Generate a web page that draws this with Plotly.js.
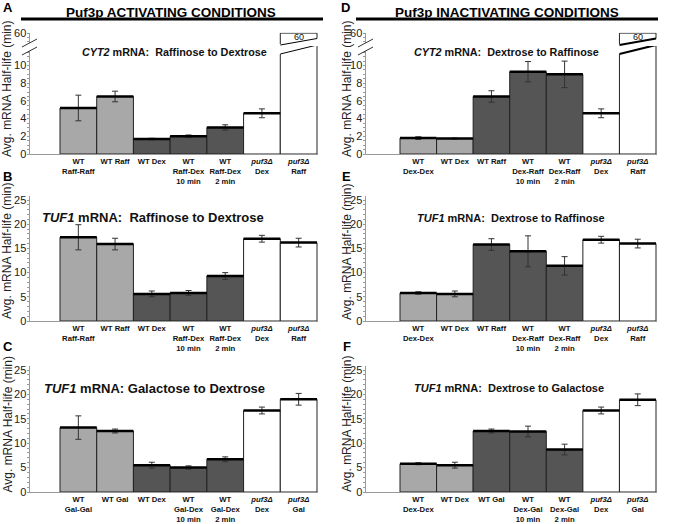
<!DOCTYPE html>
<html><head><meta charset="utf-8">
<script src="https://cdn.plot.ly/plotly-3.0.1.min.js"></script>
<style>body{margin:0;background:#fff}</style>
</head><body><div id="chart" style="width:692px;height:524px"></div>
<script>
// ---------- data ----------
const labelsRaffDex = ["WT<br>Raff-Raff", "WT Raff", "WT Dex", "WT<br>Raff-Dex<br>10 min", "WT<br>Raff-Dex<br>2 min", "<i>puf3Δ</i><br>Dex", "<i>puf3Δ</i><br>Raff"];
const labelsGalDex  = ["WT<br>Gal-Gal", "WT Gal", "WT Dex", "WT<br>Gal-Dex<br>10 min", "WT<br>Gal-Dex<br>2 min", "<i>puf3Δ</i><br>Dex", "<i>puf3Δ</i><br>Gal"];
const labelsDexRaff = ["WT<br>Dex-Dex", "WT Dex", "WT Raff", "WT<br>Dex-Raff<br>10 min", "WT<br>Dex-Raff<br>2 min", "<i>puf3Δ</i><br>Dex", "<i>puf3Δ</i><br>Raff"];
const labelsDexGal  = ["WT<br>Dex-Dex", "WT Dex", "WT Gal", "WT<br>Dex-Gal<br>10 min", "WT<br>Dex-Gal<br>2 min", "<i>puf3Δ</i><br>Dex", "<i>puf3Δ</i><br>Gal"];

const cyt2RaffDexValues = [5.2, 6.5, 1.7, 2.0, 3.0, 4.6, 60];
const cyt2RaffDexErrors = [1.45, 0.6, 0.08, 0.15, 0.3, 0.5, 0];
const cyt2DexRaffValues = [1.8, 1.75, 6.5, 9.3, 9.0, 4.6, 60];
const cyt2DexRaffErrors = [0.15, 0.05, 0.65, 1.15, 1.5, 0.5, 0];
const tuf1RaffDexValues = [17.3, 15.9, 5.6, 5.8, 9.3, 17.0, 16.2];
const tuf1RaffDexErrors = [2.6, 1.2, 0.6, 0.5, 0.7, 0.7, 0.9];
const tuf1DexRaffValues = [5.8, 5.6, 15.8, 14.4, 11.4, 16.8, 16.0];
const tuf1DexRaffErrors = [0.25, 0.6, 1.2, 3.2, 1.9, 0.7, 0.9];
const tuf1GalDexValues  = [13.2, 12.5, 5.5, 5.0, 6.7, 16.7, 19.0];
const tuf1GalDexErrors  = [2.4, 0.4, 0.6, 0.35, 0.5, 0.7, 1.2];
const tuf1DexGalValues  = [5.8, 5.5, 12.5, 12.4, 8.7, 16.7, 18.9];
const tuf1DexGalErrors  = [0.2, 0.6, 0.4, 1.1, 1.1, 0.7, 1.2];

const groupsActivating   = ['light','light','dark','dark','dark','white','white'];
const groupsInactivating = ['light','light','dark','dark','dark','white','white'];

const headers = ["Puf3p ACTIVATING CONDITIONS", "Puf3p INACTIVATING CONDITIONS"];
const yTitle = "Avg. mRNA Half-life (min)";

// ---------- layout helpers ----------
const W = 692, H = 524;
const X = p => p / W, Y = p => 1 - p / H;
const fills = {light:'#a8a8a8', dark:'#555555', white:'#ffffff'};
const FONT = 'Arial, "Liberation Sans", Helvetica, sans-serif';

const colDom = [[30,318],[366,657]];
const colRange = [[-1.317,6.527],[-1.43,6.527]];
const rowDom = [[45,154],[196,321],[366,492]];
const rowRange = [[0,12.32],[0,25.83],[0,25.82]];
const rowMajor = [2,5,5];
const rowMajorMax = [10,25,25];
const rowMinor = [0.5,1,1];

function tickSet(maxMinor, major, majorMax, minor){
  const vals = [], text = [];
  for (let t = 0; t <= maxMinor + 1e-9; t += minor) {
    const r = Math.round(t*100)/100;
    vals.push(r);
    const isMajor = Math.abs(r/major - Math.round(r/major)) < 1e-6 && r <= majorMax;
    text.push(isMajor ? String(r) : '');
  }
  return {vals, text};
}

const panels = [
  {letter:'A', row:0, col:0, v:cyt2RaffDexValues, e:cyt2RaffDexErrors, lab:labelsRaffDex, g:groupsActivating, gene:'CYT2', cond:'Raffinose to Dextrose', sep:'\u00a0 ', tx:174, ty:52.5, ts:10.8, broken:true, upper:'y7', slw:1},
  {letter:'B', row:1, col:0, v:tuf1RaffDexValues, e:tuf1RaffDexErrors, lab:labelsRaffDex, g:groupsActivating, gene:'TUF1', cond:'Raffinose to Dextrose', sep:'\u00a0 ', tx:153, ty:218, ts:13},
  {letter:'C', row:2, col:0, v:tuf1GalDexValues, e:tuf1GalDexErrors, lab:labelsGalDex, g:groupsActivating, gene:'TUF1', cond:'Galactose to Dextrose', sep:' ', tx:154, ty:388, ts:13},
  {letter:'D', row:0, col:1, v:cyt2DexRaffValues, e:cyt2DexRaffErrors, lab:labelsDexRaff, g:groupsInactivating, gene:'CYT2', cond:'Dextrose to Raffinose', sep:'\u00a0 ', tx:507, ty:52, ts:10.8, broken:true, upper:'y8', slw:2},
  {letter:'E', row:1, col:1, v:tuf1DexRaffValues, e:tuf1DexRaffErrors, lab:labelsDexRaff, g:groupsInactivating, gene:'TUF1', cond:'Dextrose to Raffinose', sep:'\u00a0 ', tx:511, ty:218, ts:11},
  {letter:'F', row:2, col:1, v:tuf1DexGalValues, e:tuf1DexGalErrors, lab:labelsDexGal, g:groupsInactivating, gene:'TUF1', cond:'Dextrose to Galactose', sep:'\u00a0 ', tx:509, ty:388, ts:11}
];

const letterPos = [[7.5,7],[7.5,176],[7.5,346],[345.5,7],[346.5,176],[346.5,346]];
const yTitlePos = [[7,89],[7,251],[7,424.5],[347,89],[347,252],[347,424]];

const traces = [];
const layout = {
  width: W, height: H, margin:{l:0,r:0,t:0,b:0},
  paper_bgcolor:'#fff', plot_bgcolor:'rgba(0,0,0,0)',
  showlegend:false, hovermode:false, bargap:0,
  font:{family:FONT, color:'#111'},
  annotations:[], shapes:[]
};

function xpx(col, v){ const d=colDom[col], r=colRange[col]; return d[0] + (v-r[0])/(r[1]-r[0])*(d[1]-d[0]); }
function pathPx(pts){ return 'M' + pts.map(p => X(p[0]).toFixed(5)+','+Y(p[1]).toFixed(5)).join(' L') + ' Z'; }

panels.forEach((p, i) => {
  const sfx = i === 0 ? '' : String(i+1);
  const xa = 'x' + sfx, ya = 'y' + sfx;
  const idx = p.v.map((_, k) => k);
  const lineColors = p.g.map(() => '#222');
  traces.push({
    type:'bar', x: idx, y: p.v, xaxis: xa, yaxis: ya, width: 1,
    marker:{color: p.g.map(c => fills[c]), line:{color: lineColors, width:1}},
    error_y:{type:'data', array: p.e, visible:true, color:'#333', thickness:1, width:3}
  });
  // thick top edge of every bar
  const tx = [], ty = [];
  p.v.forEach((val, k) => { tx.push(k-0.5, k+0.5, null); ty.push(val, val, null); });
  traces.push({type:'scatter', mode:'lines', x:tx, y:ty, xaxis:xa, yaxis:ya, line:{color:'#000', width:2.5}});

  const cd = colDom[p.col], rd = rowDom[p.row];
  const ts = tickSet(rowRange[p.row][1], rowMajor[p.row], rowMajorMax[p.row], rowMinor[p.row]);
  layout['xaxis'+sfx] = {
    domain:[X(cd[0]), X(cd[1])], range: colRange[p.col], anchor: ya,
    showline:true, linecolor:'#999', linewidth:1, ticks:'', showgrid:false, zeroline:false,
    tickmode:'array', tickvals: idx, ticktext: p.lab,
    tickfont:{size:7.7, weight:'bold', family:FONT, color:'#111'}, fixedrange:true
  };
  layout['yaxis'+sfx] = {
    domain:[Y(rd[1]), Y(rd[0])], range: rowRange[p.row], anchor: xa,
    showline:true, linecolor:'#999', linewidth:1, showgrid:false, zeroline:false,
    tickmode:'array', tickvals: ts.vals, ticktext: ts.text, ticks:'outside', ticklen:2.5, tickcolor:'#999',
    showticklabels:true, tickfont:{size:11, color:'#222', family:FONT}, ticklabelstandoff:-2,
    fixedrange:true
  };

  // subtitle
  layout.annotations.push({xref:'paper', yref:'paper', x:X(p.tx), y:Y(p.ty), xanchor:'center', yanchor:'middle', showarrow:false,
    text:'<i>'+p.gene+'</i> mRNA:'+p.sep+p.cond, font:{size:p.ts, weight:'bold', color:'#111'}});
  // panel letter
  layout.annotations.push({xref:'paper', yref:'paper', x:X(letterPos[i][0]), y:Y(letterPos[i][1]), xanchor:'center', yanchor:'middle', showarrow:false,
    text:p.letter, font:{size:13, weight:'bold', color:'#000'}});
  // y title
  layout.annotations.push({xref:'paper', yref:'paper', x:X(yTitlePos[i][0]), y:Y(yTitlePos[i][1]), xanchor:'center', yanchor:'middle', showarrow:false,
    text:yTitle, textangle:-90, font:{size:12, color:'#222'}});

  if (p.broken) {
    const ua = p.upper;
    traces.push({type:'bar', x: idx, y: p.v, xaxis: xa, yaxis: ua, width:1,
      marker:{color: p.g.map(c => fills[c]), line:{color: lineColors, width:1}}});
    layout['yaxis'+ua.slice(1)] = {
      domain:[Y(45), Y(32.8)], range:[54, 60.15], anchor: xa,
      showline:true, linecolor:'#999', linewidth:1, showgrid:false, zeroline:false,
      tickmode:'array', tickvals:[56, 58, 60], ticktext:['', '', '60'], ticks:'outside', ticklen:2.5, tickcolor:'#999',
      showticklabels:true, tickfont:{size:11, color:'#222', family:FONT}, ticklabelstandoff:-2,
      fixedrange:true
    };
    const k = p.v.length - 1;
    const L = xpx(p.col, k-0.5), R = xpx(p.col, k+0.5);
    // mask & slanted edge on lower bar
    layout.shapes.push({type:'path', xref:'paper', yref:'paper', path: pathPx([[L-1.5,44],[L-1.5,54.4],[R+1.5,44.6],[R+1.5,44]]), fillcolor:'#fff', line:{width:0}});
    layout.shapes.push({type:'line', xref:'paper', yref:'paper', x0:X(L), y0:Y(54), x1:X(R), y1:Y(45), line:{color:'#000', width:p.slw}});
    // mask & slanted edge on upper box
    layout.shapes.push({type:'path', xref:'paper', yref:'paper', path: pathPx([[L-1.5,45.3],[L-1.5,46],[R+1.5,46],[R+1.5,38.2]]), fillcolor:'#fff', line:{width:0}});
    layout.shapes.push({type:'line', xref:'paper', yref:'paper', x0:X(L), y0:Y(45), x1:X(R), y1:Y(38.5), line:{color:'#000', width:p.slw}});
    // value label in box
    layout.annotations.push({xref:xa, yref:'paper', x:k, y:Y(36.8), xanchor:'center', yanchor:'middle', showarrow:false,
      text:String(p.v[k]), font:{size:9, color:'#111'}});
    // axis break marks
    const ax = cd[0];
    layout.shapes.push({type:'path', xref:'paper', yref:'paper', path: pathPx([[ax-8,47],[ax+7,39],[ax+7,47],[ax-8,55]]), fillcolor:'#fff', line:{width:0}});
    layout.shapes.push({type:'line', xref:'paper', yref:'paper', x0:X(ax-8), y0:Y(47), x1:X(ax+7), y1:Y(39), line:{color:'#333', width:1}});
    layout.shapes.push({type:'line', xref:'paper', yref:'paper', x0:X(ax-8), y0:Y(55), x1:X(ax+7), y1:Y(47), line:{color:'#333', width:1}});
  }
});

// headers
[[171,12.5,21,323],[507,12.5,356,658]].forEach((h, j) => {
  layout.annotations.push({xref:'paper', yref:'paper', x:X(h[0]), y:Y(h[1]), xanchor:'center', yanchor:'middle', showarrow:false,
    text:headers[j], font:{size:13.5, weight:'bold', color:'#000'}});
  layout.shapes.push({type:'line', xref:'paper', yref:'paper', x0:X(h[2]), y0:Y(19), x1:X(h[3]), y1:Y(19), line:{color:'#000', width:3}});
});

Plotly.newPlot('chart', traces, layout, {staticPlot:true, displayModeBar:false});
</script>
</body></html>
